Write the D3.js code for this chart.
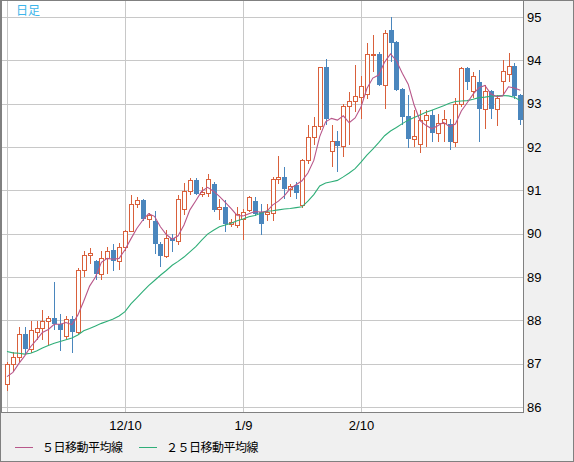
<!DOCTYPE html>
<html lang="ja">
<head>
  <meta charset="UTF-8">
  <title>日足</title>
  <style>
    body { margin: 0; background: #fff; }
    .tick text { font-family: "Liberation Sans", Arial, sans-serif; font-size: 13px; fill: #000; }
    .legend text { font-family: "Noto Sans CJK JP", sans-serif; font-size: 12px; fill: #000; }
  </style>
</head>
<body>
  <div class="canvas"></div>
  <script src="https://d3js.org/d3.v7.min.js"></script>
  <script>
    // candle data, oldest first
    const opens = [86.52, 87.00, 87.15, 87.68, 87.33, 87.73, 87.82, 87.99, 88.05, 87.92,
      87.64, 88.03, 87.72, 89.15, 89.50, 89.37, 89.07, 89.43, 89.62, 89.37,
      89.69, 90.06, 90.68, 90.78, 90.35, 90.30, 89.76, 89.49, 89.90, 89.83,
      90.58, 90.99, 91.24, 90.92, 90.93, 91.14, 90.56, 90.62, 90.23, 90.19,
      90.35, 90.54, 90.75, 90.50, 90.46, 90.48, 91.27, 91.31, 91.04, 91.12,
      90.65, 91.69, 92.22, 92.49, 93.84, 91.90, 92.13, 92.02, 92.95, 93.07,
      93.15, 93.22, 94.13, 94.15, 93.43, 94.71, 94.42, 93.34, 92.71, 92.19,
      92.08, 92.62, 92.73, 92.32, 92.56, 92.54, 92.12, 93.00, 93.83, 93.29,
      93.50, 92.87, 93.29, 92.87, 93.52, 93.69, 93.88, 93.19];
    const highs = [87.05, 87.28, 87.84, 87.84, 87.99, 87.99, 88.24, 88.10, 88.88, 88.15,
      88.10, 88.10, 89.20, 89.59, 89.66, 89.39, 89.59, 89.70, 89.76, 89.78,
      90.08, 90.89, 90.85, 90.80, 90.47, 90.52, 89.80, 90.08, 90.00, 90.89,
      91.16, 91.28, 91.28, 91.08, 91.38, 91.20, 90.81, 90.77, 90.35, 90.62,
      90.58, 90.88, 90.85, 90.69, 90.69, 91.31, 91.79, 91.55, 91.15, 91.20,
      91.73, 92.50, 92.70, 93.85, 94.02, 92.50, 92.37, 93.00, 93.28, 93.89,
      93.64, 94.41, 94.59, 94.20, 94.70, 94.99, 94.45, 93.37, 93.20, 92.85,
      92.86, 92.85, 92.85, 92.77, 92.85, 92.65, 93.12, 93.85, 93.85, 93.73,
      93.77, 93.42, 93.31, 93.19, 94.00, 94.18, 93.95, 93.23];
    const lows = [86.37, 86.84, 87.05, 87.20, 87.24, 87.55, 87.55, 87.42, 87.78, 87.30,
      87.58, 87.24, 87.66, 88.99, 89.30, 88.94, 88.94, 89.07, 89.13, 89.17,
      89.59, 90.04, 90.60, 90.30, 90.12, 89.53, 89.22, 89.45, 89.58, 89.75,
      90.43, 90.90, 90.89, 90.85, 90.85, 90.50, 90.31, 90.04, 90.15, 90.12,
      89.85, 90.50, 90.40, 89.96, 90.30, 90.30, 91.15, 90.81, 90.85, 90.80,
      90.60, 91.60, 92.04, 92.40, 92.50, 91.54, 91.42, 91.77, 92.04, 92.80,
      92.64, 93.10, 93.74, 93.40, 92.87, 93.96, 93.30, 92.50, 91.98, 92.00,
      91.86, 92.00, 92.12, 92.12, 92.12, 91.92, 92.00, 92.92, 93.31, 93.12,
      92.12, 92.42, 92.65, 92.48, 93.19, 93.50, 93.10, 92.50];
    const closes = [87.00, 87.15, 87.68, 87.33, 87.77, 87.82, 87.99, 88.05, 87.92, 87.78,
      88.03, 87.72, 89.15, 89.50, 89.55, 89.07, 89.43, 89.61, 89.37, 89.69,
      90.06, 90.68, 90.78, 90.35, 90.42, 89.75, 89.48, 89.89, 89.83, 90.81,
      90.99, 91.24, 90.91, 90.97, 91.25, 90.54, 90.61, 90.23, 90.27, 90.46,
      90.50, 90.85, 90.46, 90.23, 90.50, 91.27, 91.31, 91.04, 91.10, 90.94,
      91.69, 92.22, 92.49, 93.84, 92.64, 92.13, 92.02, 92.95, 93.07, 93.17,
      93.41, 94.15, 94.15, 93.43, 94.64, 94.40, 93.32, 92.69, 92.19, 92.25,
      92.62, 92.73, 92.32, 92.55, 92.65, 92.12, 93.00, 93.83, 93.50, 93.63,
      92.87, 93.29, 92.87, 93.14, 93.75, 93.88, 93.17, 92.63];

    // moving averages
    const ma5 = [86.70, 86.80, 87.00, 87.18, 87.39, 87.55, 87.72, 87.79, 87.91, 87.91,
      87.95, 87.90, 88.12, 88.44, 88.79, 89.00, 89.34, 89.43, 89.41, 89.43,
      89.63, 89.88, 90.12, 90.31, 90.46, 90.40, 90.16, 89.98, 89.87, 89.95,
      90.20, 90.55, 90.76, 90.98, 91.07, 90.98, 90.86, 90.72, 90.58, 90.42,
      90.41, 90.46, 90.51, 90.50, 90.51, 90.66, 90.75, 90.87, 91.04, 91.13,
      91.22, 91.40, 91.69, 92.24, 92.58, 92.66, 92.62, 92.72, 92.56, 92.67,
      92.92, 93.35, 93.59, 93.66, 93.96, 94.15, 93.99, 93.70, 93.45, 92.97,
      92.61, 92.50, 92.42, 92.49, 92.57, 92.47, 92.53, 92.83, 93.02, 93.22,
      93.37, 93.42, 93.23, 93.16, 93.18, 93.39, 93.36, 93.31];
    const ma25 = [87.28, 87.25, 87.24, 87.22, 87.24, 87.29, 87.36, 87.42, 87.47, 87.51,
      87.55, 87.59, 87.66, 87.76, 87.81, 87.87, 87.93, 87.98, 88.03, 88.10,
      88.20, 88.38, 88.52, 88.66, 88.80, 88.92, 89.04, 89.15, 89.27, 89.36,
      89.46, 89.58, 89.70, 89.85, 89.99, 90.08, 90.16, 90.20, 90.24, 90.30,
      90.34, 90.39, 90.42, 90.47, 90.52, 90.53, 90.55, 90.57, 90.58, 90.60,
      90.62, 90.75, 90.90, 91.10, 91.17, 91.20, 91.23, 91.31, 91.40, 91.50,
      91.65, 91.81, 91.95, 92.10, 92.26, 92.37, 92.45, 92.54, 92.62, 92.68,
      92.74, 92.80, 92.85, 92.90, 92.95, 93.01, 93.05, 93.06, 93.07, 93.10,
      93.14, 93.15, 93.17, 93.18, 93.19, 93.18, 93.15, 93.07];

    const xGridIndex = [0, 20, 40, 60];
    const xTickIndex = [20, 40, 60];
    const xTickLabels = ['12/10', '1/9', '2/10'];
    const yTicks = [86, 87, 88, 89, 90, 91, 92, 93, 94, 95];
    const legendNames = ['５日移動平均線', '２５日移動平均線'];

    const width = 574;
    const height = 462;
    const plot = {left: 1, top: 1, right: 523, bottom: 412};

    const upColor = '#d9603b';
    const downColor = '#4a86bd';
    const ma5Color = '#b8578a';
    const ma25Color = '#2fae78';

    const svg = d3.select('.canvas')
      .append('svg')
      .attr('width', width)
      .attr('height', height);

    svg.append('rect')
      .attr('x', 0.5).attr('y', 0.5)
      .attr('width', width - 1).attr('height', height - 1)
      .attr('fill', '#f0f0f0')
      .attr('stroke', '#808080');

    svg.append('rect')
      .attr('x', plot.left).attr('y', plot.top)
      .attr('width', plot.right - plot.left).attr('height', plot.bottom - plot.top)
      .attr('fill', '#fff');

    const x = d3.scaleLinear()
      .domain([0, closes.length - 1])
      .range([7, 7 + 5.9 * (closes.length - 1)]);

    const y = d3.scaleLinear()
      .domain([86, 95])
      .range([407, 17]);

    // grid
    const grid = svg.append('g').attr('shape-rendering', 'crispEdges');
    grid.selectAll('line.h')
      .data(yTicks)
      .enter().append('line')
      .attr('class', 'h')
      .attr('x1', plot.left).attr('x2', plot.right)
      .attr('y1', d => Math.round(y(d)) + 0.5)
      .attr('y2', d => Math.round(y(d)) + 0.5)
      .attr('stroke', '#c8c8c8');
    grid.selectAll('line.v')
      .data(xGridIndex)
      .enter().append('line')
      .attr('class', 'v')
      .attr('x1', d => Math.round(x(d)) + 0.5)
      .attr('x2', d => Math.round(x(d)) + 0.5)
      .attr('y1', plot.top).attr('y2', plot.bottom)
      .attr('stroke', '#c8c8c8');

    // candles
    const idx = d3.range(closes.length);
    const candles = svg.append('g').attr('shape-rendering', 'crispEdges');
    const cg = candles.selectAll('g')
      .data(idx)
      .enter().append('g');

    cg.append('line')
      .attr('x1', i => Math.round(x(i)) + 0.5)
      .attr('x2', i => Math.round(x(i)) + 0.5)
      .attr('y1', i => y(highs[i]))
      .attr('y2', i => y(lows[i]))
      .attr('stroke', i => closes[i] >= opens[i] ? upColor : downColor);

    cg.filter(i => closes[i] >= opens[i])
      .append('rect')
      .attr('x', i => Math.round(x(i)) - 1.5)
      .attr('width', 4)
      .attr('y', i => Math.round(y(closes[i])) + 0.5)
      .attr('height', i => Math.max(1, Math.round(y(opens[i])) - Math.round(y(closes[i]))))
      .attr('fill', '#fff')
      .attr('stroke', upColor);

    cg.filter(i => closes[i] < opens[i])
      .append('rect')
      .attr('x', i => Math.round(x(i)) - 2)
      .attr('width', 5)
      .attr('y', i => Math.round(y(opens[i])))
      .attr('height', i => Math.max(1, Math.round(y(closes[i])) - Math.round(y(opens[i]))))
      .attr('fill', downColor);

    // moving averages
    const line = d3.line()
      .x((d, i) => x(i))
      .y(d => y(d));

    svg.append('path')
      .datum(ma25)
      .attr('d', line)
      .attr('fill', 'none')
      .attr('stroke', ma25Color)
      .attr('stroke-width', 1.1);

    svg.append('path')
      .datum(ma5)
      .attr('d', line)
      .attr('fill', 'none')
      .attr('stroke', ma5Color)
      .attr('stroke-width', 1.1);

    // plot border
    svg.append('path')
      .attr('d', `M1.5,0.5V${plot.bottom + 0.5}H${plot.right + 0.5}V0.5`)
      .attr('fill', 'none')
      .attr('stroke', '#808080')
      .attr('shape-rendering', 'crispEdges');

    // axes
    const yAxis = d3.axisRight(y)
      .tickValues(yTicks)
      .tickSize(0)
      .tickPadding(4)
      .tickFormat(d3.format('d'));
    const gY = svg.append('g')
      .attr('transform', `translate(${plot.right}, 0)`)
      .call(yAxis);
    gY.select('.domain').remove();

    const xAxis = d3.axisBottom(x)
      .tickValues(xTickIndex)
      .tickSize(0)
      .tickPadding(9)
      .tickFormat((d, i) => xTickLabels[i]);
    const gX = svg.append('g')
      .attr('transform', `translate(0, ${plot.bottom})`)
      .call(xAxis);
    gX.select('.domain').remove();
    svg.selectAll('.tick text').attr('font-family', null).attr('font-size', null);

    // title
    svg.append('text')
      .attr('x', 16).attr('y', 15)
      .attr('font-family', '"Noto Sans CJK JP", sans-serif')
      .attr('font-size', 12)
      .attr('fill', '#3db5ea')
      .text('日足');

    // legend
    const legend = svg.append('g').attr('class', 'legend');
    const legendX = [15, 139];
    [ma5Color, ma25Color].forEach((c, k) => {
      legend.append('line')
        .attr('x1', legendX[k]).attr('x2', legendX[k] + 18)
        .attr('y1', 447.5).attr('y2', 447.5)
        .attr('stroke', c);
      legend.append('text')
        .attr('x', legendX[k] + 27).attr('y', 452)
        .attr('letter-spacing', '-0.5px')
        .text(legendNames[k]);
    });
  </script>
</body>
</html>
